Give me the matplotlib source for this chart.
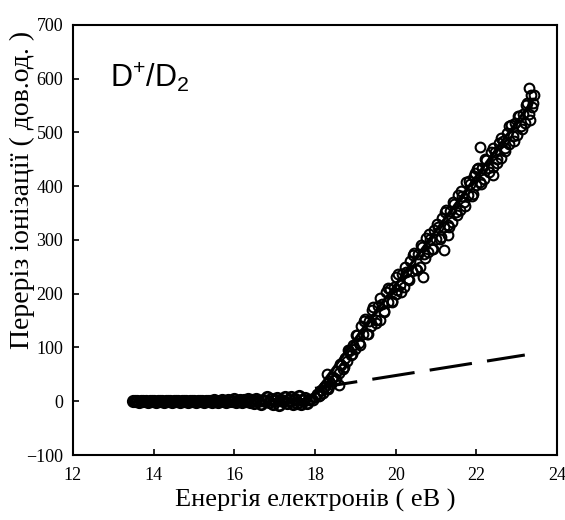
import numpy as np
import matplotlib.pyplot as plt

# flat part below threshold
flat_x = [13.50, 13.55, 13.60, 13.65, 13.70, 13.75, 13.80, 13.85, 13.90, 13.95,
          14.00, 14.05, 14.10, 14.15, 14.20, 14.25, 14.30, 14.35, 14.40, 14.45,
          14.50, 14.55, 14.60, 14.65, 14.70, 14.75, 14.80, 14.85, 14.90, 14.95,
          15.00, 15.05, 15.10, 15.15, 15.20, 15.25, 15.30, 15.35, 15.40, 15.45,
          15.50, 15.55, 15.60, 15.65, 15.70, 15.75, 15.80, 15.85, 15.90, 15.95,
          16.00, 16.05, 16.10, 16.15, 16.20, 16.25, 16.30, 16.35, 16.40, 16.45,
          16.50, 16.55, 16.60, 16.65, 16.70, 16.75, 16.80, 16.85, 16.90, 16.95,
          17.00, 17.05, 17.10, 17.15, 17.20, 17.25, 17.30, 17.35, 17.40, 17.45,
          17.50, 17.55, 17.60, 17.65, 17.70, 17.75, 17.80]
flat_y = [0, 1, 0, -1, 0, 1, 0, -1, 0, 1,
          0, -1, 0, 1, 0, -1, 0, 1, 0, -1,
          0, 1, 0, -1, 0, 1, 0, -1, 0, 1,
          0, -1, 0, 1, 0, -1, 0, 1, 0, -1,
          2, 0, -1, 1, 3, 0, -2, 2, 0, 1,
          4, -1, 0, 3, -2, 2, 0, 5, -1, 2,
          -3, 4, 0, -5, 3, 1, 8, -2, 4, -6,
          2, 6, -7, 3, 0, 7, -4, 2, 8, -6,
          5, -3, 9, -5, 3, 6, -4]

# rising part above threshold
rise_x = [17.85, 17.90, 17.95, 18.00, 18.05, 18.10, 18.15, 18.20, 18.25, 18.30,
          18.35, 18.40, 18.45, 18.50, 18.55, 18.60, 18.65, 18.70, 18.75, 18.80,
          18.85, 18.90, 18.95, 19.00, 19.05, 19.10, 19.15, 19.20, 19.25, 19.30,
          19.35, 19.40, 19.45, 19.50, 19.55, 19.60, 19.65, 19.70, 19.75, 19.80,
          19.85, 19.90, 19.95, 20.00, 20.05, 20.10, 20.15, 20.20, 20.25, 20.30,
          20.35, 20.40, 20.45, 20.50, 20.55, 20.60, 20.65, 20.70, 20.75, 20.80,
          20.85, 20.90, 20.95, 21.00, 21.05, 21.10, 21.15, 21.20, 21.25, 21.30,
          21.35, 21.40, 21.45, 21.50, 21.55, 21.60, 21.65, 21.70, 21.75, 21.80,
          21.85, 21.90, 21.95, 22.00, 22.05, 22.10, 22.15, 22.20, 22.25, 22.30,
          22.35, 22.40, 22.45, 22.50, 22.55, 22.60, 22.65, 22.70, 22.75, 22.80,
          22.85, 22.90, 22.95, 23.00, 23.05, 23.10, 23.15, 23.20, 23.25, 23.30,
          23.35, 23.40, 23.30, 23.42, 23.38, 22.10, 21.97, 20.68, 21.20, 20.03,
          22.40, 21.30, 18.60, 18.30]
rise_y = [2, 5, 3, 8, 14, 10, 20, 16, 28, 24,
          38, 32, 46, 40, 56, 52, 68, 60, 80, 74,
          94, 86, 104, 98, 123, 108, 140, 125, 153, 125,
          150, 140, 175, 152, 177, 152, 181, 168, 203, 184,
          209, 184, 213, 200, 237, 216, 237, 212, 241, 228,
          261, 242, 275, 246, 273, 250, 287, 274, 303, 278,
          301, 284, 319, 302, 325, 302, 341, 324, 355, 328,
          353, 334, 367, 352, 383, 356, 381, 370, 407, 384,
          405, 382, 419, 402, 433, 408, 433, 414, 449, 434,
          463, 436, 463, 450, 481, 452, 485, 472, 499, 478,
          513, 494, 517, 496, 531, 512, 535, 518, 555, 534,
          569, 555, 582, 570, 548, 473, 425, 231, 281, 207,
          420, 310, 30, 50]

# second run over the same range
rise2_x = [18.12, 18.22, 18.32, 18.42, 18.52, 18.62, 18.72, 18.82, 18.92, 19.02,
           19.12, 19.22, 19.32, 19.42, 19.52, 19.62, 19.72, 19.82, 19.92, 20.02,
           20.12, 20.22, 20.32, 20.42, 20.52, 20.62, 20.72, 20.82, 20.92, 21.02,
           21.12, 21.22, 21.32, 21.42, 21.52, 21.62, 21.72, 21.82, 21.92, 22.02,
           22.12, 22.22, 22.32, 22.42, 22.52, 22.62, 22.72, 22.82, 22.92, 23.02,
           23.12, 23.22, 23.32]
rise2_y = [12, 26, 22, 44, 42, 70, 64, 96, 88, 124,
           104, 150, 126, 170, 146, 192, 166, 210, 186, 232,
           204, 250, 226, 272, 244, 290, 266, 312, 284, 330,
           306, 352, 324, 370, 346, 392, 364, 410, 386, 432,
           404, 450, 426, 472, 444, 490, 466, 512, 484, 530,
           506, 552, 524]

# linear fit and background line
fit_x = [17.85, 23.4]
fit_y = [0, 560]
bg_x = [18.0, 23.2]
bg_y = [24, 86]

plt.rcParams['font.family'] = 'Liberation Serif'
plt.rcParams['mathtext.default'] = 'regular'

fig = plt.figure(figsize=(5.65, 5.2), dpi=100)
ax = fig.add_axes([0.129, 0.125, 0.857, 0.827])

mk = dict(linestyle='none', marker='o', mfc='none', mec='black', ms=7, mew=1.5)
ax.plot(flat_x, flat_y, linestyle='none', marker='o', mfc='none', mec='black',
        ms=7.5, mew=2)
ax.plot(rise_x, rise_y, **mk)
ax.plot(rise2_x, rise2_y, **mk)
ax.plot(fit_x, fit_y, '-', color='black', lw=2.2)
ax.plot(bg_x, bg_y, color='black', lw=2.2, linestyle=(0, (14, 5)))

ax.set_xlim(12, 24)
ax.set_ylim(-100, 700)
ax.set_xticks([12, 14, 16, 18, 20, 22, 24])
ax.set_yticks([-100, 0, 100, 200, 300, 400, 500, 600, 700])
ax.tick_params(direction='in', length=4, width=1.2, labelsize=13)
ax.tick_params(axis='x', pad=9)
ax.tick_params(axis='y', pad=7)
for s in ax.spines.values():
    s.set_linewidth(1.5)

ax.set_xlabel('Енергія електронів ( еВ )', fontsize=19, va='center')
ax.xaxis.set_label_coords(0.5, -0.105)
ax.set_ylabel('Переріз іонізації ( дов.од. )', fontsize=20, va='center')
ax.yaxis.set_label_coords(-0.105, 0.616)

ax.text(0.077, 0.855, 'D$^{+}$/D$_{2}$', transform=ax.transAxes,
        fontsize=22, family='Liberation Sans')

fig.savefig('out.png', dpi=100)
